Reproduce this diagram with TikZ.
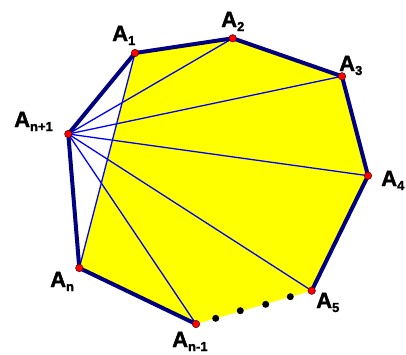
\documentclass[tikz,border=0pt]{standalone}
\usepackage{fontspec}
\setmainfont{Liberation Sans}
\newfontfamily\lblfont[FakeBold=1.5]{Liberation Sans Bold}
\usepackage{tikz}
\usetikzlibrary{positioning}
\definecolor{polyedge}{RGB}{0,0,128}
\definecolor{diagblue}{RGB}{0,0,255}
\definecolor{polyfill}{RGB}{255,255,0}
\definecolor{vertred}{RGB}{255,0,0}
\newcommand{\vlab}[1]{A\raisebox{-4pt}{\fontsize{13}{13}\selectfont #1}}
\tikzset{
  edgeline/.style={draw=polyedge,line width=4pt,line join=round,line cap=round},
  diagline/.style={draw=diagblue,line width=1.3pt},
  vdot/.style={circle,fill=vertred,draw=black!70!red,line width=0.5pt,inner sep=0pt,minimum size=7.5pt},
  gapdot/.style={circle,fill=black,inner sep=0pt,minimum size=7pt},
  vlabel/.style={anchor=base west,inner sep=0pt,font=\fontsize{22}{22}\selectfont\lblfont}
}
\begin{document}
\begin{tikzpicture}[x=1pt,y=-1pt]
\useasboundingbox (0,0) rectangle (406,354);
% vertices
\coordinate (A1) at (135,53);
\coordinate (A2) at (232.7,38.3);
\coordinate (A3) at (342,76.3);
\coordinate (A4) at (368,175.7);
\coordinate (A5) at (311.7,290.7);
\coordinate (Am) at (196,324);
\coordinate (An) at (79.3,268);
\coordinate (Ap) at (68.3,134);
% yellow part
\fill[polyfill] (A1)--(A2)--(A3)--(A4)--(A5)--(Am)--(An)--cycle;
% diagonals
\draw[diagline] (A1)--(An);
\draw[diagline] (Ap)--(A2);
\draw[diagline] (Ap)--(A3);
\draw[diagline] (Ap)--(A4);
\draw[diagline] (Ap)--(A5);
\draw[diagline] (Ap)--(Am);
% sides
\draw[edgeline] (A5)--(A4)--(A3)--(A2)--(A1)--(Ap)--(An)--(Am);
% dots for the missing vertices
\node[gapdot] (g1) at (215.7,318.3) {};
\node[gapdot] (g2) at (240.3,310.7) {};
\node[gapdot] (g3) at (265.7,304.3) {};
\node[gapdot] (g4) at (290.3,296.7) {};
\foreach \v in {A1,A2,A3,A4,A5,Am,An,Ap}
  \node[vdot] at (\v) {};
% labels
\node[vlabel] (lA1) at (112,41) {\vlab{1}};
\node[vlabel] (lA2) at (221,27) {\vlab{2}};
\node[vlabel] (lA3) at (339,71) {\vlab{3}};
\node[vlabel] (lA4) at (381,186) {\vlab{4}};
\node[vlabel] (lA5) at (316,308) {\vlab{5}};
\node[vlabel] (lAm) at (172,347) {\vlab{n-1}};
\node[vlabel] (lAn) at (50,287) {\vlab{n}};
\node[vlabel] (lAp) at (14,127) {\vlab{n+1}};
\end{tikzpicture}
\end{document}
